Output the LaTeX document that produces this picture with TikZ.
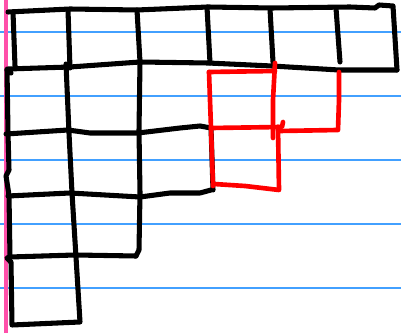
\documentclass[tikz,border=0pt]{standalone}
\definecolor{ruleblue}{RGB}{66,160,255}
\definecolor{marginpink}{RGB}{255,80,170}
\definecolor{inkred}{RGB}{255,0,0}
\usetikzlibrary{calc}

\begin{document}
\begin{tikzpicture}[x=0.025cm, y=-0.025cm,
    rule/.style={ruleblue, line width=1.1pt},
    margin/.style={marginpink, line width=2.3pt},
    ink/.style={black, line width=3.6pt, line cap=round, line join=round},
    redink/.style={inkred, line width=3.3pt, line cap=round, line join=round}
  ]
    \useasboundingbox (0,0) rectangle (401,333);

    % Ruled paper
    \foreach \y in {32,96,160,224,288}
      \draw[rule] (0,\y) -- (401,\y);
    \draw[margin] (6,0) -- (6,333);

    % First row
    \draw[ink] (8,12) -- (70,9) -- (137,10) -- (208,7) -- (272,8) -- (350,7) -- (375,8)
      -- (379,5) -- (393,6) -- (397,70);
    \draw[ink] (8,69) -- (70,67) -- (140,62) -- (208,63) -- (272,66) -- (339,70) -- (397,70);
    \draw[ink] (13,12) -- (15,66);
    \draw[ink] (68,10) -- (70,68);
    \draw[ink] (137,10) -- (140,62);
    \draw[ink] (207,7) -- (210,63);
    \draw[ink] (270,9) -- (273,62);
    \draw[ink] (336,8) -- (340,62);

    % Lower rows
    \draw[ink] (11,73) -- (7,69) -- (8,133) -- (9,170) -- (6,176) -- (9,195) -- (10,257)
      -- (7,258) -- (11,262) -- (12,325) -- (80,322) -- (76,257) -- (72,193) -- (69,133) -- (66,64);
    \draw[ink] (140,62) -- (139,131) -- (140,193) -- (139,250) -- (136,256);
    \draw[ink] (6,134) -- (68,130) -- (90,133) -- (138,133) -- (180,128) -- (200,126) -- (211,128);
    \draw[ink] (8,196) -- (70,193) -- (140,197) -- (170,193) -- (200,193) -- (211,190);
    \draw[ink] (211,127) -- (213,190);
    \draw[ink] (10,257) -- (75,255) -- (136,256);

    % Added boxes
    \draw[redink] (209,72) -- (275,71);
    \draw[redink] (275,63) -- (273,100) -- (273,138);
    \draw[redink] (209,72) -- (211,128) -- (213,186);
    \draw[redink] (211,128) -- (282,127) -- (283,122);
    \draw[redink] (278,127) -- (279,131) -- (338,130) -- (339,100) -- (339,72);
    \draw[redink] (278,127) -- (279,190) -- (245,186) -- (214,184);
  \end{tikzpicture}
\end{document}
